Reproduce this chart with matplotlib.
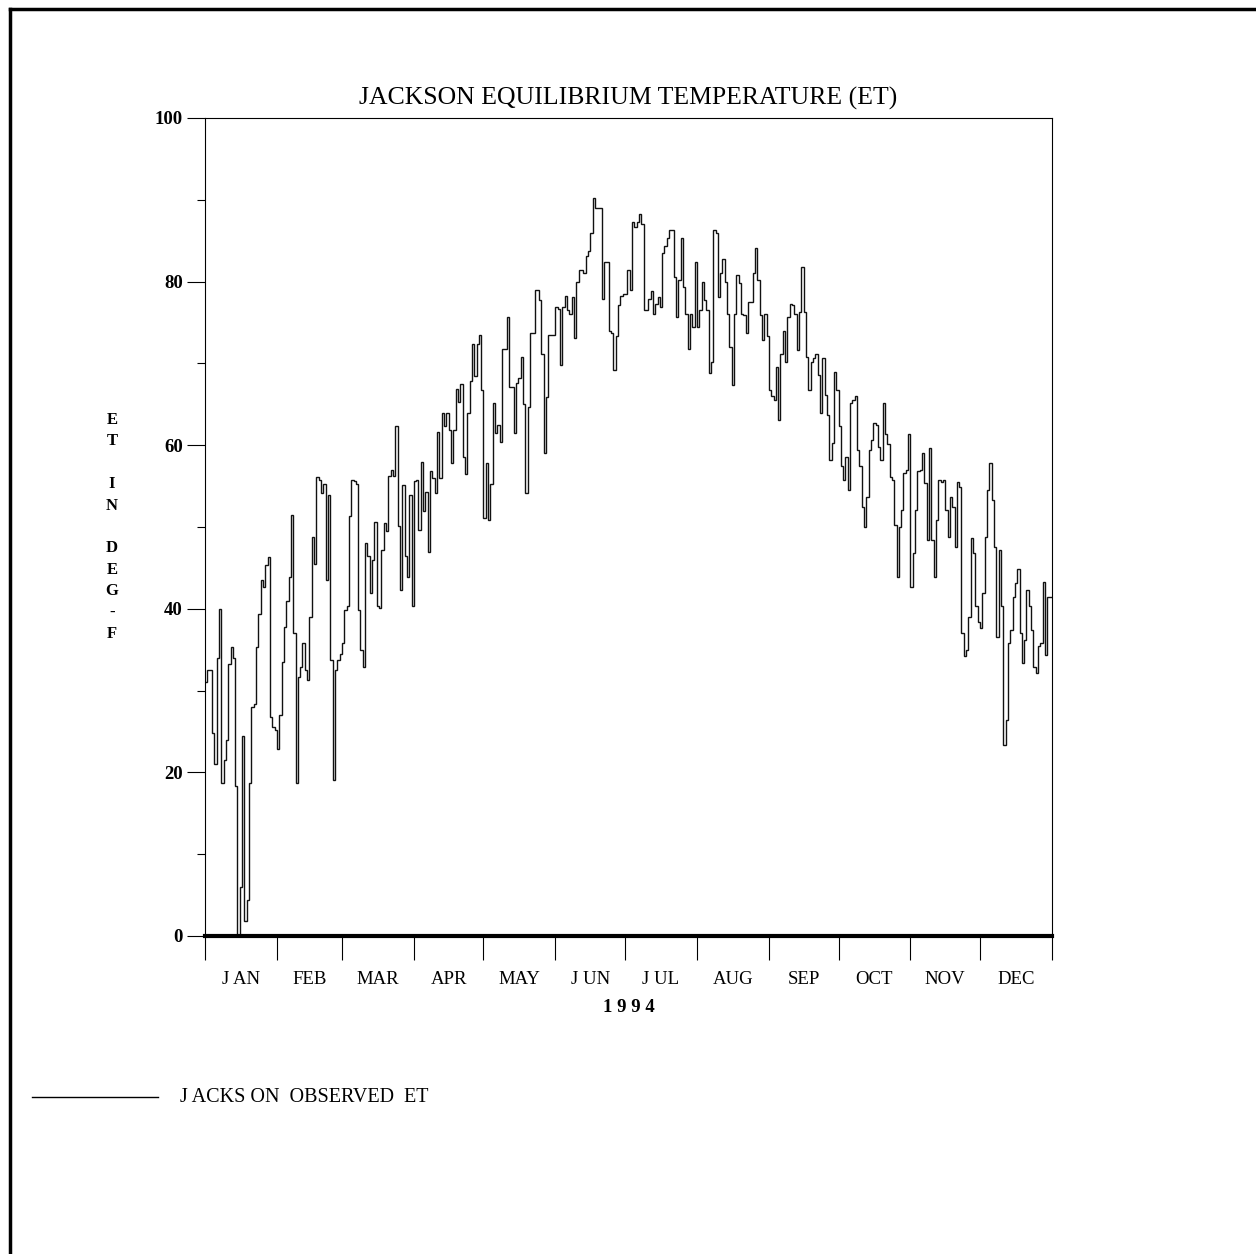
import numpy as np
import matplotlib
matplotlib.use('Agg')
import matplotlib.pyplot as plt
from matplotlib.lines import Line2D

# daily observed ET (deg F), 1994
jan = [31, 32.5, 32.5, 24.8, 21, 34, 40, 18.7, 21.5, 24, 33.3, 35.3, 34, 18.3, 0, 6,
       24.5, 1.8, 4.4, 18.7, 28, 28.4, 35.3, 39.4, 43.5, 42.7, 45.3, 46.3, 26.8, 25.6, 25.2]
feb = [22.8, 27, 33.5, 37.8, 41, 43.9, 51.5, 37, 18.7, 31.7, 32.9, 35.8, 32.5, 31.3,
       39, 48.8, 45.5, 56.1, 55.7, 54.1, 55.3, 43.5, 53.9, 33.7, 19.1, 32.5, 33.7, 34.5]
mar = [35.8, 39.8, 40.3, 51.3, 55.8, 55.6, 55.3, 39.8, 35, 32.9, 48, 46.4, 41.9, 46,
       50.6, 40.3, 40.1, 47.2, 50.5, 49.5, 56.2, 57, 56.2, 62.3, 50.1, 42.3, 55.1, 46.4,
       43.9, 53.9, 40.3]
apr = [55.6, 55.8, 49.6, 58, 51.9, 54.3, 47, 56.8, 56, 54.1, 61.6, 56, 63.9, 62.3,
       63.9, 61.9, 57.8, 61.8, 66.9, 65.3, 67.5, 58.6, 56.5, 63.9, 67.9, 72.4, 68.5,
       72.4, 73.5, 66.8]
may = [51.1, 57.8, 50.9, 55.3, 65.1, 61.5, 62.5, 60.4, 71.8, 71.8, 75.7, 67.1, 67.1,
       61.5, 67.6, 68.2, 70.8, 65, 54.2, 64.7, 73.7, 73.7, 79, 79, 77.7, 71.2, 59, 65.9,
       73.5, 73.5, 73.5]
jun = [76.9, 76.7, 69.8, 76.9, 78.3, 76.5, 76.1, 78.1, 73.1, 80, 81.4, 81.4, 81, 83.1,
       83.7, 85.9, 90.2, 89, 89, 89, 77.9, 82.4, 82.4, 73.9, 73.7, 69.2, 73.3, 77.1,
       78.3, 78.5]
jul = [78.5, 81.4, 79, 87.3, 86.7, 87.3, 88.3, 87.1, 76.5, 76.5, 77.9, 78.9, 76.1, 77.3,
       78.1, 76.9, 83.5, 84.3, 85.3, 86.3, 86.3, 80.6, 75.7, 80.2, 85.3, 79.4, 76.1,
       71.8, 76.1, 74.5, 82.4]
aug = [74.5, 76.5, 80, 77.7, 76.5, 68.8, 70.2, 86.3, 85.9, 78.1, 81, 82.8, 80, 76.1,
       72, 67.3, 76.1, 80.8, 79.8, 76.1, 75.9, 73.7, 77.5, 77.5, 81, 84.1, 80.2, 75.9,
       72.9, 76.1, 73.3]
sep = [66.8, 66, 65.5, 69.6, 63.1, 71.2, 73.9, 70.2, 75.7, 77.3, 77.1, 76.1, 71.6, 76.3,
       81.8, 76.3, 70.8, 66.8, 70.2, 70.6, 71.2, 68.6, 63.9, 70.6, 66.1, 63.7, 58.2,
       60.3, 69, 66.8]
oct_ = [62.3, 57.4, 55.8, 58.6, 54.5, 65.1, 65.5, 66, 59.4, 57.4, 52.5, 50, 53.7, 59.4,
        60.6, 62.7, 62.5, 59.8, 58.2, 65.1, 61.4, 60.2, 56.1, 55.7, 50.2, 43.9, 50,
        52.1, 56.6, 57, 61.4]
nov = [42.7, 46.8, 52.1, 56.8, 57, 59, 55.4, 48.4, 59.6, 48.4, 43.9, 50.8, 55.7, 55.5,
       55.7, 52.1, 48.8, 53.7, 52.5, 47.6, 55.5, 54.9, 37, 34.2, 35, 39, 48.6, 46.8,
       40.3, 38.4]
dec = [37.6, 41.9, 48.8, 54.5, 57.8, 53.3, 47.6, 36.6, 47.2, 40.3, 23.4, 26.4, 35.8,
       37.4, 41.5, 43.1, 44.9, 37, 33.4, 36.2, 42.3, 40.3, 37.4, 32.9, 32.1, 35.4, 35.8,
       43.3, 34.4, 41.5, 41.5]

months = [jan, feb, mar, apr, may, jun, jul, aug, sep, oct_, nov, dec]
month_names = ['J AN', 'FEB', 'MAR', 'APR', 'MAY', 'J UN', 'J UL', 'AUG', 'SEP', 'OCT', 'NOV', 'DEC']

et = np.concatenate([np.array(m, dtype=float) for m in months])
month_len = np.array([len(m) for m in months])
month_start = np.concatenate([[0], np.cumsum(month_len)])
month_mid = month_start[:-1] + month_len / 2

serif = ['Liberation Serif', 'DejaVu Serif']
plt.rcParams['font.family'] = serif

fig = plt.figure(figsize=(12.56, 12.54), dpi=100)
ax = fig.add_axes([205 / 1256, 1 - 936 / 1254, 847 / 1256, 818 / 1254])

ax.stairs(et, np.arange(len(et) + 1), baseline=None, color='#111111', lw=1.0)

ax.set_xlim(0, len(et))
ax.set_ylim(0, 100)

# y axis
ax.set_yticks(np.arange(0, 101, 20))
ax.set_yticks(np.arange(10, 100, 20), minor=True)
ax.set_yticklabels([str(v) for v in range(0, 101, 20)], fontsize=13.5, fontweight='bold')
ax.tick_params(axis='y', which='major', direction='out', length=13, width=0.8, pad=3)
ax.tick_params(axis='y', which='minor', direction='out', length=6, width=0.8)

# x axis: month boundaries as ticks, names in the middle
ax.set_xticks(month_start)
ax.set_xticklabels([])
ax.set_xticks(month_mid, minor=True)
ax.set_xticklabels(month_names, minor=True, fontsize=13.5)
ax.tick_params(axis='x', which='major', direction='out', length=17, width=0.8)
ax.tick_params(axis='x', which='minor', length=0, pad=25)

for side in ['left', 'top', 'right']:
    ax.spines[side].set_linewidth(0.8)
ax.spines['bottom'].set_linewidth(3)

ax.text(0.5, -0.087, '1 9 9 4', transform=ax.transAxes, ha='center', va='center',
        fontsize=13.5, fontweight='bold')
ax.set_title('JACKSON EQUILIBRIUM TEMPERATURE (ET)', fontsize=18.5, pad=10)

fig.text(112 / 1256, 1 - 527 / 1254, 'E\nT\n\nI\nN\n\nD\nE\nG\n-\nF', ha='center', va='center',
         fontsize=12, fontweight='bold', linespacing=1.45)

# legend
fig.add_artist(Line2D([32 / 1256, 158 / 1256], [1 - 1097 / 1254] * 2, color='black', lw=1))
fig.text(180 / 1256, 1 - 1097 / 1254, 'J ACKS ON  OBSERVED  ET', ha='left', va='center', fontsize=14.5)

# page frame
fig.add_artist(Line2D([10 / 1256, 10 / 1256], [0, 1 - 9 / 1254], color='black', lw=2.5))
fig.add_artist(Line2D([10 / 1256, 1], [1 - 9 / 1254] * 2, color='black', lw=2.5))

fig.savefig('out.png', dpi=100)
